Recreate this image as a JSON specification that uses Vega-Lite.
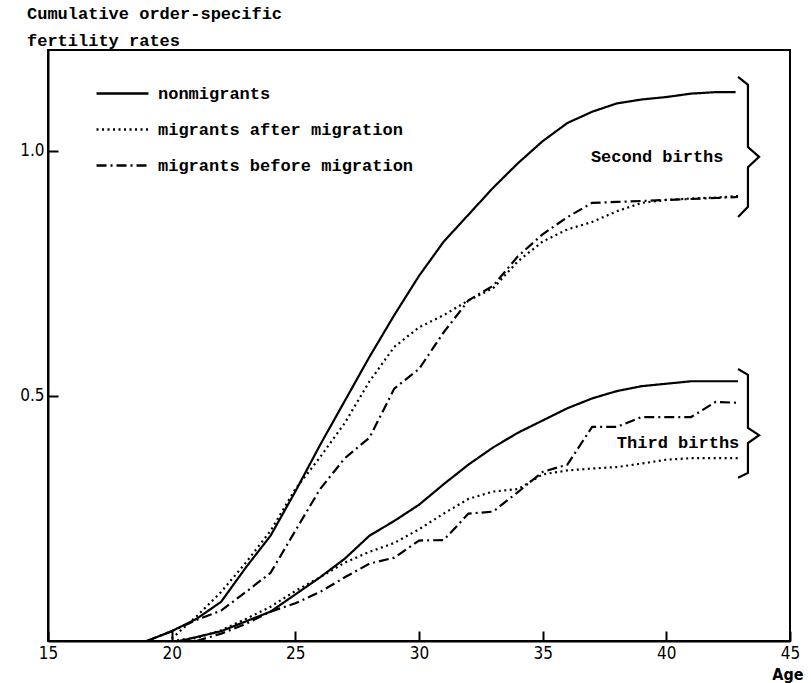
{
  "$schema": "https://vega.github.io/schema/vega-lite/v6.json",
  "width": 742,
  "height": 591,
  "autosize": {"type": "none"},
  "padding": {"left": 48, "top": 50, "right": 21, "bottom": 42},
  "background": "white",
  "config": {
    "view": {"stroke": "black", "strokeWidth": 2},
    "axis": {"grid": false, "domainColor": "black", "domainWidth": 2, "tickColor": "black", "tickWidth": 2, "labelColor": "black", "labelFont": "DejaVu Sans Condensed", "labelFontSize": 17}
  },
  "title": {
    "text": ["Cumulative order-specific", "fertility rates"],
    "anchor": "start",
    "frame": "group",
    "dx": -21,
    "offset": 0,
    "font": "Liberation Mono",
    "fontSize": 17,
    "fontWeight": "bold",
    "lineHeight": 27,
    "color": "black"
  },
  "datasets": {
    "curves": [
      {"births": "Second births", "series": "nonmigrants", "age": 19, "rate": 0},
      {"births": "Second births", "series": "nonmigrants", "age": 20, "rate": 0.02},
      {"births": "Second births", "series": "nonmigrants", "age": 21, "rate": 0.045},
      {"births": "Second births", "series": "nonmigrants", "age": 22, "rate": 0.08},
      {"births": "Second births", "series": "nonmigrants", "age": 23, "rate": 0.15},
      {"births": "Second births", "series": "nonmigrants", "age": 24, "rate": 0.215},
      {"births": "Second births", "series": "nonmigrants", "age": 25, "rate": 0.305},
      {"births": "Second births", "series": "nonmigrants", "age": 26, "rate": 0.4},
      {"births": "Second births", "series": "nonmigrants", "age": 27, "rate": 0.49},
      {"births": "Second births", "series": "nonmigrants", "age": 28, "rate": 0.58},
      {"births": "Second births", "series": "nonmigrants", "age": 29, "rate": 0.665},
      {"births": "Second births", "series": "nonmigrants", "age": 30, "rate": 0.745},
      {"births": "Second births", "series": "nonmigrants", "age": 31, "rate": 0.815},
      {"births": "Second births", "series": "nonmigrants", "age": 32, "rate": 0.87},
      {"births": "Second births", "series": "nonmigrants", "age": 33, "rate": 0.925},
      {"births": "Second births", "series": "nonmigrants", "age": 34, "rate": 0.975},
      {"births": "Second births", "series": "nonmigrants", "age": 35, "rate": 1.02},
      {"births": "Second births", "series": "nonmigrants", "age": 36, "rate": 1.057},
      {"births": "Second births", "series": "nonmigrants", "age": 37, "rate": 1.08},
      {"births": "Second births", "series": "nonmigrants", "age": 38, "rate": 1.097},
      {"births": "Second births", "series": "nonmigrants", "age": 39, "rate": 1.105},
      {"births": "Second births", "series": "nonmigrants", "age": 40, "rate": 1.11},
      {"births": "Second births", "series": "nonmigrants", "age": 41, "rate": 1.117},
      {"births": "Second births", "series": "nonmigrants", "age": 42, "rate": 1.12},
      {"births": "Second births", "series": "nonmigrants", "age": 42.8, "rate": 1.12},
      {"births": "Second births", "series": "migrants after migration", "age": 20, "rate": 0.005},
      {"births": "Second births", "series": "migrants after migration", "age": 21, "rate": 0.05},
      {"births": "Second births", "series": "migrants after migration", "age": 22, "rate": 0.1},
      {"births": "Second births", "series": "migrants after migration", "age": 23, "rate": 0.16},
      {"births": "Second births", "series": "migrants after migration", "age": 24, "rate": 0.225},
      {"births": "Second births", "series": "migrants after migration", "age": 25, "rate": 0.31},
      {"births": "Second births", "series": "migrants after migration", "age": 26, "rate": 0.375},
      {"births": "Second births", "series": "migrants after migration", "age": 27, "rate": 0.445},
      {"births": "Second births", "series": "migrants after migration", "age": 28, "rate": 0.53},
      {"births": "Second births", "series": "migrants after migration", "age": 29, "rate": 0.6},
      {"births": "Second births", "series": "migrants after migration", "age": 30, "rate": 0.64},
      {"births": "Second births", "series": "migrants after migration", "age": 31, "rate": 0.665},
      {"births": "Second births", "series": "migrants after migration", "age": 32, "rate": 0.695},
      {"births": "Second births", "series": "migrants after migration", "age": 33, "rate": 0.72},
      {"births": "Second births", "series": "migrants after migration", "age": 34, "rate": 0.775},
      {"births": "Second births", "series": "migrants after migration", "age": 35, "rate": 0.815},
      {"births": "Second births", "series": "migrants after migration", "age": 36, "rate": 0.84},
      {"births": "Second births", "series": "migrants after migration", "age": 37, "rate": 0.855},
      {"births": "Second births", "series": "migrants after migration", "age": 38, "rate": 0.877},
      {"births": "Second births", "series": "migrants after migration", "age": 39, "rate": 0.894},
      {"births": "Second births", "series": "migrants after migration", "age": 40, "rate": 0.9},
      {"births": "Second births", "series": "migrants after migration", "age": 41, "rate": 0.903},
      {"births": "Second births", "series": "migrants after migration", "age": 42, "rate": 0.905},
      {"births": "Second births", "series": "migrants after migration", "age": 42.9, "rate": 0.908},
      {"births": "Second births", "series": "migrants before migration", "age": 19, "rate": 0},
      {"births": "Second births", "series": "migrants before migration", "age": 20, "rate": 0.02},
      {"births": "Second births", "series": "migrants before migration", "age": 21, "rate": 0.043},
      {"births": "Second births", "series": "migrants before migration", "age": 22, "rate": 0.062},
      {"births": "Second births", "series": "migrants before migration", "age": 23, "rate": 0.1},
      {"births": "Second births", "series": "migrants before migration", "age": 24, "rate": 0.139},
      {"births": "Second births", "series": "migrants before migration", "age": 25, "rate": 0.225},
      {"births": "Second births", "series": "migrants before migration", "age": 26, "rate": 0.31},
      {"births": "Second births", "series": "migrants before migration", "age": 27, "rate": 0.373},
      {"births": "Second births", "series": "migrants before migration", "age": 28, "rate": 0.415},
      {"births": "Second births", "series": "migrants before migration", "age": 29, "rate": 0.515},
      {"births": "Second births", "series": "migrants before migration", "age": 30, "rate": 0.555},
      {"births": "Second births", "series": "migrants before migration", "age": 31, "rate": 0.63},
      {"births": "Second births", "series": "migrants before migration", "age": 32, "rate": 0.695},
      {"births": "Second births", "series": "migrants before migration", "age": 33, "rate": 0.725},
      {"births": "Second births", "series": "migrants before migration", "age": 34, "rate": 0.785},
      {"births": "Second births", "series": "migrants before migration", "age": 35, "rate": 0.83},
      {"births": "Second births", "series": "migrants before migration", "age": 36, "rate": 0.865},
      {"births": "Second births", "series": "migrants before migration", "age": 37, "rate": 0.894},
      {"births": "Second births", "series": "migrants before migration", "age": 38, "rate": 0.896},
      {"births": "Second births", "series": "migrants before migration", "age": 39, "rate": 0.898},
      {"births": "Second births", "series": "migrants before migration", "age": 40, "rate": 0.9},
      {"births": "Second births", "series": "migrants before migration", "age": 41, "rate": 0.902},
      {"births": "Second births", "series": "migrants before migration", "age": 42, "rate": 0.904},
      {"births": "Second births", "series": "migrants before migration", "age": 42.9, "rate": 0.906},
      {"births": "Third births", "series": "nonmigrants", "age": 20.3, "rate": 0},
      {"births": "Third births", "series": "nonmigrants", "age": 21, "rate": 0.008},
      {"births": "Third births", "series": "nonmigrants", "age": 22, "rate": 0.02},
      {"births": "Third births", "series": "nonmigrants", "age": 23, "rate": 0.04},
      {"births": "Third births", "series": "nonmigrants", "age": 24, "rate": 0.06},
      {"births": "Third births", "series": "nonmigrants", "age": 25, "rate": 0.095},
      {"births": "Third births", "series": "nonmigrants", "age": 26, "rate": 0.13},
      {"births": "Third births", "series": "nonmigrants", "age": 27, "rate": 0.168},
      {"births": "Third births", "series": "nonmigrants", "age": 28, "rate": 0.215},
      {"births": "Third births", "series": "nonmigrants", "age": 29, "rate": 0.245},
      {"births": "Third births", "series": "nonmigrants", "age": 30, "rate": 0.278},
      {"births": "Third births", "series": "nonmigrants", "age": 31, "rate": 0.32},
      {"births": "Third births", "series": "nonmigrants", "age": 32, "rate": 0.36},
      {"births": "Third births", "series": "nonmigrants", "age": 33, "rate": 0.395},
      {"births": "Third births", "series": "nonmigrants", "age": 34, "rate": 0.425},
      {"births": "Third births", "series": "nonmigrants", "age": 35, "rate": 0.45},
      {"births": "Third births", "series": "nonmigrants", "age": 36, "rate": 0.475},
      {"births": "Third births", "series": "nonmigrants", "age": 37, "rate": 0.495},
      {"births": "Third births", "series": "nonmigrants", "age": 38, "rate": 0.51},
      {"births": "Third births", "series": "nonmigrants", "age": 39, "rate": 0.52},
      {"births": "Third births", "series": "nonmigrants", "age": 40, "rate": 0.525},
      {"births": "Third births", "series": "nonmigrants", "age": 41, "rate": 0.53},
      {"births": "Third births", "series": "nonmigrants", "age": 42, "rate": 0.53},
      {"births": "Third births", "series": "nonmigrants", "age": 42.9, "rate": 0.53},
      {"births": "Third births", "series": "migrants after migration", "age": 20, "rate": 0},
      {"births": "Third births", "series": "migrants after migration", "age": 21, "rate": 0.006},
      {"births": "Third births", "series": "migrants after migration", "age": 22, "rate": 0.022},
      {"births": "Third births", "series": "migrants after migration", "age": 23, "rate": 0.045},
      {"births": "Third births", "series": "migrants after migration", "age": 24, "rate": 0.07},
      {"births": "Third births", "series": "migrants after migration", "age": 25, "rate": 0.102},
      {"births": "Third births", "series": "migrants after migration", "age": 26, "rate": 0.13},
      {"births": "Third births", "series": "migrants after migration", "age": 27, "rate": 0.16},
      {"births": "Third births", "series": "migrants after migration", "age": 28, "rate": 0.182},
      {"births": "Third births", "series": "migrants after migration", "age": 29, "rate": 0.2},
      {"births": "Third births", "series": "migrants after migration", "age": 30, "rate": 0.228},
      {"births": "Third births", "series": "migrants after migration", "age": 31, "rate": 0.26},
      {"births": "Third births", "series": "migrants after migration", "age": 32, "rate": 0.29},
      {"births": "Third births", "series": "migrants after migration", "age": 33, "rate": 0.305},
      {"births": "Third births", "series": "migrants after migration", "age": 34, "rate": 0.31},
      {"births": "Third births", "series": "migrants after migration", "age": 35, "rate": 0.34},
      {"births": "Third births", "series": "migrants after migration", "age": 36, "rate": 0.348},
      {"births": "Third births", "series": "migrants after migration", "age": 37, "rate": 0.352},
      {"births": "Third births", "series": "migrants after migration", "age": 38, "rate": 0.355},
      {"births": "Third births", "series": "migrants after migration", "age": 39, "rate": 0.362},
      {"births": "Third births", "series": "migrants after migration", "age": 40, "rate": 0.37},
      {"births": "Third births", "series": "migrants after migration", "age": 41, "rate": 0.373},
      {"births": "Third births", "series": "migrants after migration", "age": 42, "rate": 0.373},
      {"births": "Third births", "series": "migrants after migration", "age": 42.9, "rate": 0.373},
      {"births": "Third births", "series": "migrants before migration", "age": 21, "rate": 0},
      {"births": "Third births", "series": "migrants before migration", "age": 22, "rate": 0.015},
      {"births": "Third births", "series": "migrants before migration", "age": 23, "rate": 0.035},
      {"births": "Third births", "series": "migrants before migration", "age": 24, "rate": 0.06},
      {"births": "Third births", "series": "migrants before migration", "age": 25, "rate": 0.077},
      {"births": "Third births", "series": "migrants before migration", "age": 26, "rate": 0.1},
      {"births": "Third births", "series": "migrants before migration", "age": 27, "rate": 0.13},
      {"births": "Third births", "series": "migrants before migration", "age": 28, "rate": 0.158},
      {"births": "Third births", "series": "migrants before migration", "age": 29, "rate": 0.17},
      {"births": "Third births", "series": "migrants before migration", "age": 30, "rate": 0.205},
      {"births": "Third births", "series": "migrants before migration", "age": 31, "rate": 0.206},
      {"births": "Third births", "series": "migrants before migration", "age": 32, "rate": 0.26},
      {"births": "Third births", "series": "migrants before migration", "age": 33, "rate": 0.264},
      {"births": "Third births", "series": "migrants before migration", "age": 34, "rate": 0.304},
      {"births": "Third births", "series": "migrants before migration", "age": 35, "rate": 0.345},
      {"births": "Third births", "series": "migrants before migration", "age": 36, "rate": 0.36},
      {"births": "Third births", "series": "migrants before migration", "age": 37, "rate": 0.437},
      {"births": "Third births", "series": "migrants before migration", "age": 38, "rate": 0.437},
      {"births": "Third births", "series": "migrants before migration", "age": 39, "rate": 0.457},
      {"births": "Third births", "series": "migrants before migration", "age": 40, "rate": 0.457},
      {"births": "Third births", "series": "migrants before migration", "age": 41, "rate": 0.457},
      {"births": "Third births", "series": "migrants before migration", "age": 42, "rate": 0.488},
      {"births": "Third births", "series": "migrants before migration", "age": 42.9, "rate": 0.486}
    ],
    "braces": [
      {"brace": "Second births", "ord": 1, "age": 42.9, "rate": 1.151},
      {"brace": "Second births", "ord": 2, "age": 43.3, "rate": 1.135},
      {"brace": "Second births", "ord": 3, "age": 43.3, "rate": 1.008},
      {"brace": "Second births", "ord": 4, "age": 43.75, "rate": 0.988},
      {"brace": "Second births", "ord": 5, "age": 43.3, "rate": 0.967},
      {"brace": "Second births", "ord": 6, "age": 43.3, "rate": 0.886},
      {"brace": "Second births", "ord": 7, "age": 42.9, "rate": 0.865},
      {"brace": "Third births", "ord": 1, "age": 42.9, "rate": 0.555},
      {"brace": "Third births", "ord": 2, "age": 43.3, "rate": 0.543},
      {"brace": "Third births", "ord": 3, "age": 43.3, "rate": 0.435},
      {"brace": "Third births", "ord": 4, "age": 43.75, "rate": 0.42},
      {"brace": "Third births", "ord": 5, "age": 43.3, "rate": 0.404},
      {"brace": "Third births", "ord": 6, "age": 43.3, "rate": 0.343},
      {"brace": "Third births", "ord": 7, "age": 42.9, "rate": 0.333}
    ],
    "notes": [
      {"label": "Second births", "age": 36.95, "rate": 0.988},
      {"label": "Third births", "age": 38.0, "rate": 0.404}
    ]
  },
  "layer": [
    {
      "data": {"name": "curves"},
      "mark": {"type": "line", "color": "black", "strokeWidth": 2.2},
      "encoding": {
        "x": {
          "field": "age", "type": "quantitative",
          "scale": {"domain": [15, 45], "nice": false, "zero": false},
          "axis": {"values": [15, 20, 25, 30, 35, 40, 45], "tickSize": -10, "labelPadding": 14, "labelFlush": false, "title": "Age", "titleFont": "DejaVu Sans Condensed", "titleFontSize": 16, "titleFontWeight": "bold", "titleColor": "black", "titleX": 755, "titleY": 33, "titleAlign": "right", "titleBaseline": "middle", "titleAnchor": null}
        },
        "y": {
          "field": "rate", "type": "quantitative",
          "scale": {"domain": [0, 1.206], "nice": false},
          "axis": {"values": [0.5, 1.0], "format": ".1f", "tickSize": -10, "labelPadding": 14, "title": null}
        },
        "strokeDash": {
          "field": "series", "type": "nominal",
          "scale": {"domain": ["nonmigrants", "migrants after migration", "migrants before migration"], "range": [[1, 0], [2, 3.5], [10, 4, 2, 4]]},
          "legend": {"title": null, "orient": "none", "legendX": 47, "legendY": 16, "symbolType": "stroke", "symbolSize": 2700, "symbolStrokeWidth": 2.5, "symbolStrokeColor": "black", "labelFont": "Liberation Mono", "labelFontSize": 17, "labelFontWeight": "bold", "labelColor": "black", "labelOffset": 8, "rowPadding": -16, "labelLimit": 400}
        },
        "detail": {"field": "births"},
        "order": {"field": "age", "type": "quantitative"}
      }
    },
    {
      "data": {"name": "braces"},
      "mark": {"type": "line", "color": "black", "strokeWidth": 2.2, "strokeJoin": "miter"},
      "encoding": {
        "x": {"field": "age", "type": "quantitative"},
        "y": {"field": "rate", "type": "quantitative"},
        "detail": {"field": "brace"},
        "order": {"field": "ord", "type": "quantitative"}
      }
    },
    {
      "data": {"name": "notes"},
      "mark": {"type": "text", "align": "left", "baseline": "middle", "font": "Liberation Mono", "fontSize": 17, "fontWeight": "bold", "color": "black"},
      "encoding": {
        "x": {"field": "age", "type": "quantitative"},
        "y": {"field": "rate", "type": "quantitative"},
        "text": {"field": "label"}
      }
    }
  ]
}
